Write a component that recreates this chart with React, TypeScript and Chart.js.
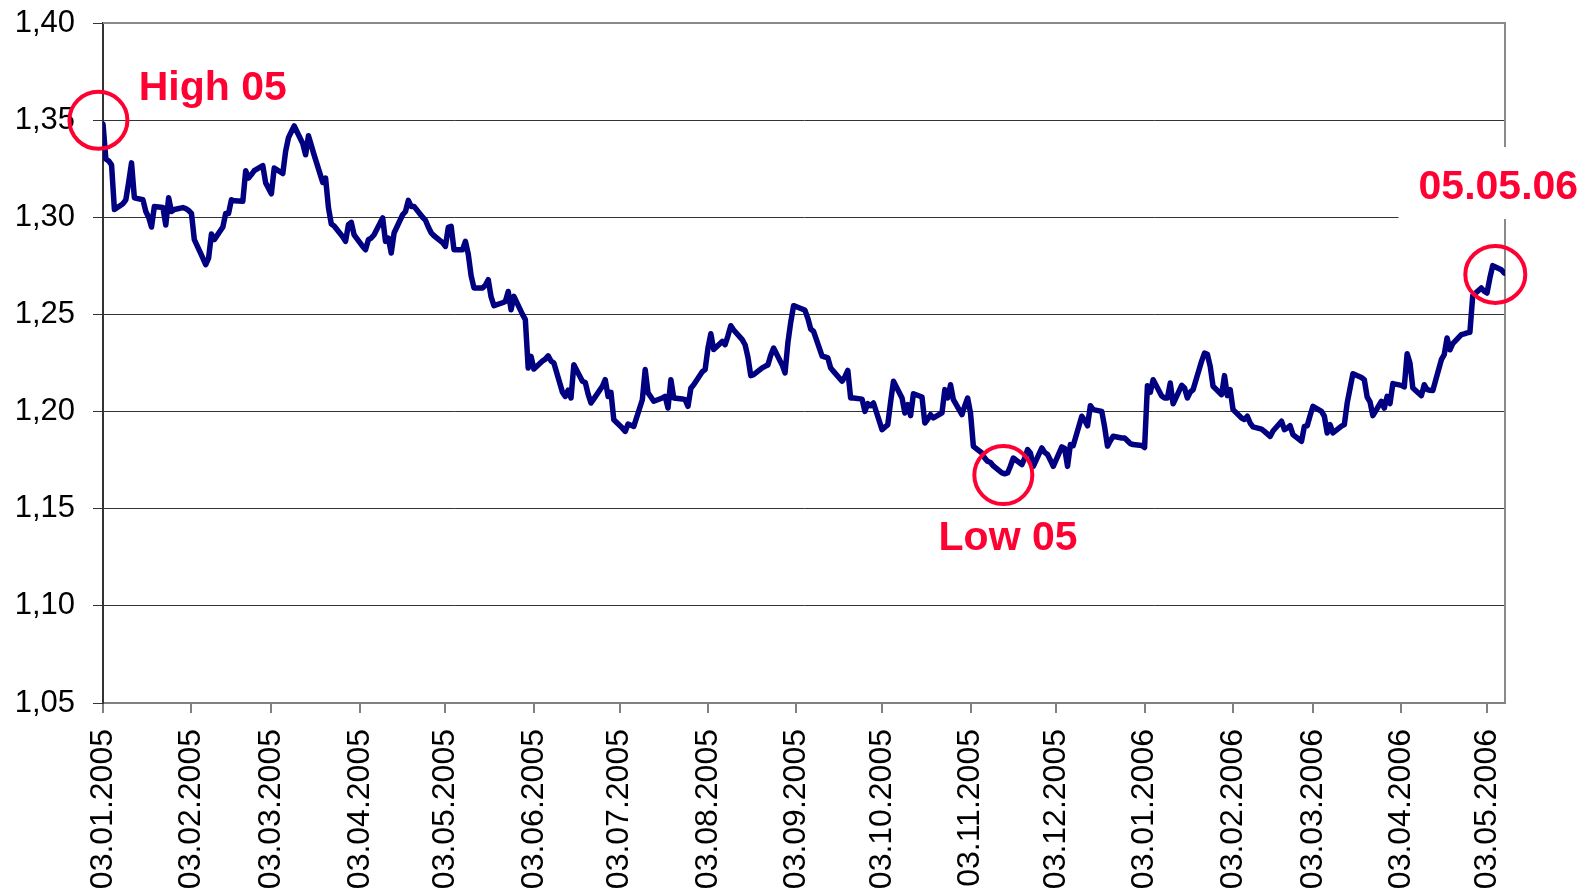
import React, { useEffect, useRef } from 'react';
import { Chart, registerables } from 'chart.js';

Chart.register(...registerables);

// ---------- data ----------
const dates: string[] = [
  // 2005
  '2005-01-03','2005-01-04','2005-01-05','2005-01-06','2005-01-07','2005-01-10','2005-01-11','2005-01-12','2005-01-13','2005-01-14',
  '2005-01-17','2005-01-18','2005-01-19','2005-01-20','2005-01-21','2005-01-24','2005-01-25','2005-01-26','2005-01-27','2005-01-28','2005-01-31',
  '2005-02-01','2005-02-02','2005-02-03','2005-02-04','2005-02-07','2005-02-08','2005-02-09','2005-02-10','2005-02-11',
  '2005-02-14','2005-02-15','2005-02-16','2005-02-17','2005-02-18','2005-02-21','2005-02-22','2005-02-23','2005-02-24','2005-02-25','2005-02-28',
  '2005-03-01','2005-03-02','2005-03-03','2005-03-04','2005-03-07','2005-03-08','2005-03-09','2005-03-10','2005-03-11',
  '2005-03-14','2005-03-15','2005-03-16','2005-03-17','2005-03-18','2005-03-21','2005-03-22','2005-03-23','2005-03-24','2005-03-25',
  '2005-03-28','2005-03-29','2005-03-30','2005-03-31',
  '2005-04-01','2005-04-04','2005-04-05','2005-04-06','2005-04-07','2005-04-08','2005-04-11','2005-04-12','2005-04-13','2005-04-14','2005-04-15',
  '2005-04-18','2005-04-19','2005-04-20','2005-04-21','2005-04-22','2005-04-25','2005-04-26','2005-04-27','2005-04-28','2005-04-29',
  '2005-05-02','2005-05-03','2005-05-04','2005-05-05','2005-05-06','2005-05-09','2005-05-10','2005-05-11','2005-05-12','2005-05-13',
  '2005-05-16','2005-05-17','2005-05-18','2005-05-19','2005-05-20','2005-05-23','2005-05-24','2005-05-25','2005-05-26','2005-05-27',
  '2005-05-30','2005-05-31',
  '2005-06-01','2005-06-02','2005-06-03','2005-06-06','2005-06-07','2005-06-08','2005-06-09','2005-06-10','2005-06-13','2005-06-14',
  '2005-06-15','2005-06-16','2005-06-17','2005-06-20','2005-06-21','2005-06-22','2005-06-23','2005-06-24','2005-06-27','2005-06-28',
  '2005-06-29','2005-06-30',
  '2005-07-01','2005-07-04','2005-07-05','2005-07-06','2005-07-07','2005-07-08','2005-07-11','2005-07-12','2005-07-13','2005-07-14',
  '2005-07-15','2005-07-18','2005-07-19','2005-07-20','2005-07-21','2005-07-22','2005-07-25','2005-07-26','2005-07-27','2005-07-28','2005-07-29',
  '2005-08-01','2005-08-02','2005-08-03','2005-08-04','2005-08-05','2005-08-08','2005-08-09','2005-08-10','2005-08-11','2005-08-12',
  '2005-08-15','2005-08-16','2005-08-17','2005-08-18','2005-08-19','2005-08-22','2005-08-23','2005-08-24','2005-08-25','2005-08-26',
  '2005-08-29','2005-08-30','2005-08-31',
  '2005-09-01','2005-09-02','2005-09-05','2005-09-06','2005-09-07','2005-09-08','2005-09-09','2005-09-12','2005-09-13','2005-09-14',
  '2005-09-15','2005-09-16','2005-09-19','2005-09-20','2005-09-21','2005-09-22','2005-09-23','2005-09-26','2005-09-27','2005-09-28',
  '2005-09-29','2005-09-30',
  '2005-10-03','2005-10-04','2005-10-05','2005-10-06','2005-10-07','2005-10-10','2005-10-11','2005-10-12','2005-10-13','2005-10-14',
  '2005-10-17','2005-10-18','2005-10-19','2005-10-20','2005-10-21','2005-10-24','2005-10-25','2005-10-26','2005-10-27','2005-10-28','2005-10-31',
  '2005-11-01','2005-11-02','2005-11-03','2005-11-04','2005-11-07','2005-11-08','2005-11-09','2005-11-10','2005-11-11',
  '2005-11-14','2005-11-15','2005-11-16','2005-11-17','2005-11-18','2005-11-21','2005-11-22','2005-11-23','2005-11-24','2005-11-25',
  '2005-11-28','2005-11-29','2005-11-30',
  '2005-12-01','2005-12-02','2005-12-05','2005-12-06','2005-12-07','2005-12-08','2005-12-09','2005-12-12','2005-12-13','2005-12-14',
  '2005-12-15','2005-12-16','2005-12-19','2005-12-20','2005-12-21','2005-12-22','2005-12-23','2005-12-26','2005-12-27','2005-12-28',
  '2005-12-29','2005-12-30',
  // 2006
  '2006-01-02','2006-01-03','2006-01-04','2006-01-05','2006-01-06','2006-01-09','2006-01-10','2006-01-11','2006-01-12','2006-01-13',
  '2006-01-16','2006-01-17','2006-01-18','2006-01-19','2006-01-20','2006-01-23','2006-01-24','2006-01-25','2006-01-26','2006-01-27',
  '2006-01-30','2006-01-31',
  '2006-02-01','2006-02-02','2006-02-03','2006-02-06','2006-02-07','2006-02-08','2006-02-09','2006-02-10','2006-02-13','2006-02-14',
  '2006-02-15','2006-02-16','2006-02-17','2006-02-20','2006-02-21','2006-02-22','2006-02-23','2006-02-24','2006-02-27','2006-02-28',
  '2006-03-01','2006-03-02','2006-03-03','2006-03-06','2006-03-07','2006-03-08','2006-03-09','2006-03-10','2006-03-13','2006-03-14',
  '2006-03-15','2006-03-16','2006-03-17','2006-03-20','2006-03-21','2006-03-22','2006-03-23','2006-03-24','2006-03-27','2006-03-28',
  '2006-03-29','2006-03-30','2006-03-31',
  '2006-04-03','2006-04-04','2006-04-05','2006-04-06','2006-04-07','2006-04-10','2006-04-11','2006-04-12','2006-04-13','2006-04-14',
  '2006-04-17','2006-04-18','2006-04-19','2006-04-20','2006-04-21','2006-04-24','2006-04-25','2006-04-26','2006-04-27','2006-04-28',
  '2006-05-01','2006-05-02','2006-05-03','2006-05-04','2006-05-05','2006-05-08','2006-05-09',
];

const rates: number[] = [
  // Jan 2005
  1.348, 1.330, 1.329, 1.327, 1.304, 1.307, 1.309, 1.318, 1.328, 1.310,
  1.309, 1.303, 1.300, 1.295, 1.3056, 1.305, 1.296, 1.310, 1.303, 1.304, 1.305,
  // Feb 2005
  1.3045, 1.3035, 1.302, 1.2885, 1.279, 1.2756, 1.279, 1.2914, 1.2885,
  1.295, 1.302, 1.302, 1.309, 1.3085, 1.3082, 1.324, 1.3202, 1.322, 1.324, 1.3266,
  // Mar 2005
  1.3177, 1.315, 1.3121, 1.3254, 1.3225, 1.334, 1.341, 1.344, 1.347,
  1.338, 1.3322, 1.342, 1.337, 1.332, 1.318, 1.3202, 1.305, 1.2965, 1.2955,
  1.290, 1.2876, 1.2962, 1.2974,
  // Apr 2005
  1.291, 1.285, 1.2833, 1.2885, 1.2893, 1.291, 1.2997, 1.2876, 1.2893, 1.2816, 1.2919,
  1.3013, 1.303, 1.3087, 1.3056, 1.3056, 1.300, 1.2985, 1.295, 1.292, 1.2905,
  // May 2005
  1.287, 1.285, 1.2948, 1.2953, 1.2833, 1.2833, 1.2876, 1.281, 1.270, 1.2636,
  1.2636, 1.265, 1.2679, 1.259, 1.2545, 1.256, 1.2567, 1.2618, 1.2524, 1.2593,
  1.250, 1.2473,
  // Jun 2005
  1.2224, 1.2284, 1.2219, 1.226, 1.227, 1.2287, 1.226, 1.2250, 1.210, 1.2078,
  1.211, 1.207, 1.2241, 1.2156, 1.215, 1.209, 1.2044, 1.2065, 1.213, 1.2164,
  1.2078, 1.2099,
  // Jul 2005
  1.1958, 1.1915, 1.1898, 1.1936, 1.193, 1.1924, 1.2061, 1.2216, 1.2096, 1.2075,
  1.2053, 1.207, 1.2078, 1.2018, 1.2164, 1.207, 1.2065, 1.2061, 1.2027, 1.212, 1.2138,
  // Aug 2005
  1.2205, 1.2216, 1.2327, 1.2401, 1.2319, 1.2361, 1.2344, 1.239, 1.2442, 1.242,
  1.237, 1.2344, 1.228, 1.2185, 1.219, 1.2225, 1.2233, 1.224, 1.229, 1.2327,
  1.224, 1.2199, 1.2353,
  // Sep 2005
  1.246, 1.2545, 1.2528, 1.2521, 1.248, 1.2425, 1.2413, 1.2285, 1.2281, 1.2276,
  1.2224, 1.2207, 1.2156, 1.218, 1.2212, 1.207, 1.207, 1.2064, 1.2001, 1.2041,
  1.203, 1.2044,
  // Oct 2005
  1.1907, 1.192, 1.1932, 1.205, 1.2156, 1.207, 1.1993, 1.2036, 1.1979, 1.2092,
  1.2075, 1.1941, 1.196, 1.1984, 1.1967, 1.1993, 1.2113, 1.207, 1.2138, 1.2061, 1.1984,
  // Nov 2005
  1.203, 1.207, 1.1993, 1.1821, 1.1787, 1.176, 1.1744, 1.1738, 1.172,
  1.1684, 1.168, 1.1684, 1.172, 1.1761, 1.1727, 1.176, 1.1804, 1.1787, 1.1718,
  1.1813, 1.179, 1.1779,
  // Dec 2005
  1.175, 1.1718, 1.1818, 1.181, 1.1718, 1.1830, 1.1825, 1.1976, 1.1955, 1.1927,
  1.203, 1.201, 1.2001, 1.192, 1.1822, 1.185, 1.1873, 1.1864, 1.1864, 1.185,
  1.1835, 1.183,
  // Jan 2006
  1.1825, 1.1815, 1.2133, 1.2099, 1.2164, 1.208, 1.207, 1.207, 1.2147, 1.204,
  1.2135, 1.2121, 1.207, 1.210, 1.2113, 1.2260, 1.2301, 1.2295, 1.2233, 1.213,
  1.2087, 1.2185,
  // Feb 2006
  1.2082, 1.2113, 1.201, 1.1967, 1.1959, 1.1976, 1.1941, 1.1921, 1.191, 1.1898,
  1.1885, 1.1872, 1.19, 1.195, 1.1907, 1.1915, 1.1927, 1.1881, 1.1847, 1.1924,
  // Mar 2006
  1.1927, 1.198, 1.2027, 1.2001, 1.1976, 1.189, 1.1933, 1.189, 1.1925, 1.1933,
  1.2044, 1.212, 1.2195, 1.2175, 1.2164, 1.2075, 1.205, 1.1979, 1.2053, 1.2018,
  1.2078, 1.2041, 1.2144,
  // Apr 2006
  1.2135, 1.2127, 1.2298, 1.2250, 1.2121, 1.2082, 1.2138, 1.2113, 1.211, 1.2109,
  1.2267, 1.2293, 1.2379, 1.2318, 1.235, 1.2396, 1.240, 1.2405, 1.2408, 1.2597,
  // May 2006
  1.2636, 1.262, 1.261, 1.2688, 1.2751, 1.273, 1.2713,
];

const xTickLabels: string[] = [
  '03.01.2005', '03.02.2005', '03.03.2005', '03.04.2005', '03.05.2005', '03.06.2005',
  '03.07.2005', '03.08.2005', '03.09.2005', '03.10.2005', '03.11.2005', '03.12.2005',
  '03.01.2006', '03.02.2006', '03.03.2006', '03.04.2006', '03.05.2006',
];

const Y_MIN = 1.05;
const Y_MAX = 1.40;
const Y_STEP = 0.05;
const X_START = '2005-01-03';
const X_END_DAYS = 491.3; // axis runs a little past the last quote

// annotations (data coordinates: day offset from X_START, rate)
const circleMarks = [
  { day: -1.6, value: 1.3499, rx: 29, ry: 28.5 },
  { day: 315.5, value: 1.1673, rx: 29, ry: 29 },
  { day: 487.9, value: 1.2706, rx: 30, ry: 28.5 },
];
const textMarks = [
  { text: 'High 05', day: 12.5, value: 1.3602, box: false },
  { text: 'Low 05', day: 292.8, value: 1.1289, box: false },
  { text: '05.05.06', day: 461.0, value: 1.3094, box: true },
];

// ---------- helpers ----------
const DAY_MS = 86400000;
const isoToDay = (s: string) => {
  const [y, m, d] = s.split('-').map(Number);
  const [y0, m0, d0] = X_START.split('-').map(Number);
  return (Date.UTC(y, m - 1, d) - Date.UTC(y0, m0 - 1, d0)) / DAY_MS;
};
const deToDay = (s: string) => {
  const [d, m, y] = s.split('.');
  return isoToDay(`${y}-${m}-${d}`);
};

const FONT = "'Liberation Sans', Arial, Helvetica, sans-serif";
const RED = '#FF0033';

const decorPlugin = {
  id: 'decor',
  beforeDatasetsDraw(chart: any) {
    const { ctx, chartArea: a } = chart;
    ctx.save();
    ctx.strokeStyle = '#8a8a8a';
    ctx.lineWidth = 2;
    ctx.beginPath();
    ctx.moveTo(a.left, a.top);
    ctx.lineTo(a.right, a.top);
    ctx.lineTo(a.right, a.bottom);
    ctx.stroke();
    ctx.restore();
  },
  afterDraw(chart: any) {
    const { ctx } = chart;
    const xs = chart.scales.x;
    const ys = chart.scales.y;
    ctx.save();
    ctx.strokeStyle = RED;
    ctx.lineWidth = 4;
    for (const c of circleMarks) {
      ctx.beginPath();
      ctx.ellipse(xs.getPixelForValue(c.day), ys.getPixelForValue(c.value), c.rx, c.ry, 0, 0, Math.PI * 2);
      ctx.stroke();
    }
    ctx.font = `bold 41px ${FONT}`;
    ctx.textAlign = 'left';
    ctx.textBaseline = 'alphabetic';
    for (const t of textMarks) {
      const px = xs.getPixelForValue(t.day);
      const py = ys.getPixelForValue(t.value);
      if (t.box) {
        const w = ctx.measureText(t.text).width;
        ctx.fillStyle = '#ffffff';
        ctx.fillRect(px - 20, py - 52, w + 60, 72);
      }
      ctx.fillStyle = RED;
      ctx.fillText(t.text, px, py);
    }
    ctx.restore();
  },
};

export default function App() {
  const ref = useRef<HTMLCanvasElement | null>(null);

  useEffect(() => {
    document.body.style.margin = '0';
    const canvas = ref.current;
    if (!canvas) return;
    const points = dates.map((d, i) => ({ x: isoToDay(d), y: rates[i] }));
    const tickDays = xTickLabels.map(deToDay);

    const chart = new Chart(canvas, {
      type: 'line',
      data: {
        datasets: [
          {
            data: points,
            borderColor: '#000080',
            borderWidth: 5.5,
            pointRadius: 0,
            tension: 0,
            fill: false,
            borderJoinStyle: 'round',
            borderCapStyle: 'round',
          },
        ],
      },
      options: {
        animation: false,
        responsive: false,
        devicePixelRatio: 1,
        layout: { padding: { left: 0, top: 23, right: 87, bottom: 0 } },
        plugins: { legend: { display: false }, tooltip: { enabled: false } },
        scales: {
          x: {
            type: 'linear',
            min: 0,
            max: X_END_DAYS,
            afterBuildTicks: (s: any) => {
              s.ticks = tickDays.map((v) => ({ value: v }));
            },
            afterFit: (s: any) => {
              s.height = 189;
              s.paddingLeft = 0;
              s.paddingRight = 0;
            },
            ticks: {
              autoSkip: false,
              minRotation: 90,
              maxRotation: 90,
              padding: 16,
              color: '#000',
              font: { size: 32, family: FONT },
              callback: (_v: any, i: number) => xTickLabels[i],
            },
            grid: { drawOnChartArea: false, drawTicks: true, tickLength: 10, color: '#808080', lineWidth: 2 },
            border: { display: true, color: '#808080', width: 2 },
          },
          y: {
            min: Y_MIN,
            max: Y_MAX,
            afterFit: (s: any) => {
              s.width = 103;
              s.paddingTop = 0;
              s.paddingBottom = 0;
            },
            ticks: {
              stepSize: Y_STEP,
              padding: 18,
              color: '#000',
              font: { size: 31, family: FONT },
              callback: (v: any) => Number(v).toFixed(2).replace('.', ','),
            },
            grid: { color: '#333333', lineWidth: 1, tickLength: 10, drawTicks: true },
            border: { display: true, color: '#333333', width: 2 },
          },
        },
      },
      plugins: [decorPlugin],
    });
    return () => chart.destroy();
  }, []);

  return (
    <div style={{ width: 1592, height: 892, background: '#fff' }}>
      <canvas ref={ref} width={1592} height={892} style={{ display: 'block' }} />
    </div>
  );
}
